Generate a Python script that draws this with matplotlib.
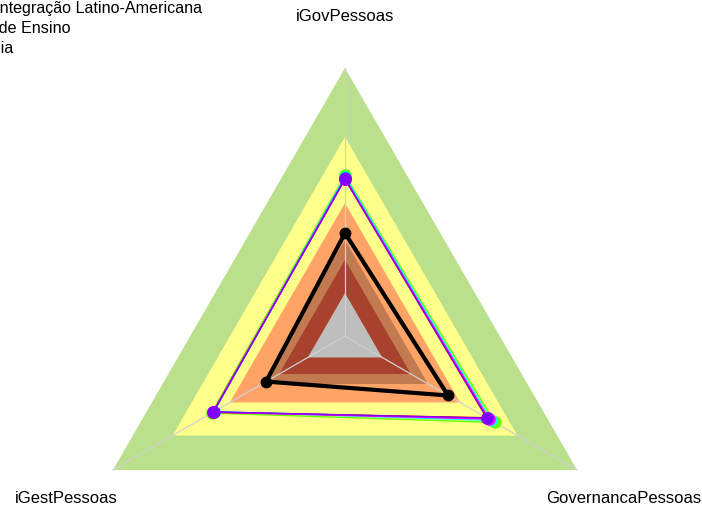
import numpy as np
import matplotlib

matplotlib.use("Agg")
import matplotlib.pyplot as plt

plt.rcParams["font.family"] = ["Liberation Sans", "DejaVu Sans"]

# axes, counter-clockwise from the top
axis_labels = ["iGovPessoas", "iGestPessoas", "GovernancaPessoas"]

# background bands (outer radius, fraction of max) and their colours
band_levels = [1.0, 0.743, 0.496, 0.358, 0.284, 0.16]
band_colors = ["#bbe08c", "#ffff8c", "#ffa466", "#c27a50", "#a8412d", "#bebebe"]

# series values (fraction of max), order = axis_labels
series_names = ["verde", "ciano", "azul", "vermelho", "magenta", "violeta"]
series_colors = ["#66ff00", "#00ffff", "#0040ff", "#ff0000", "#ff00ff", "#8000ff"]
series_values = [
    [0.600, 0.575, 0.645],
    [0.595, 0.565, 0.630],
    [0.588, 0.566, 0.615],
    [0.585, 0.570, 0.610],
    [0.587, 0.568, 0.620],
    [0.586, 0.567, 0.612],
]
unila_values = [0.384, 0.340, 0.444]

legend_texts = [
    "Universidade Federal da Integração Latino-Americana",
    "Instituições Federais de Ensino",
    "Autarquia",
]

W, H, DPI = 702, 511, 100
CX, CY, R = 345, 336, 268  # centre and radius in pixels

theta = np.deg2rad([90, 210, 330])
cos_t, sin_t = np.cos(theta), np.sin(theta)


def closed(vals):
    v = np.asarray(vals, dtype=float)
    x = np.append(v * cos_t, v[0] * cos_t[0])
    y = np.append(v * sin_t, v[0] * sin_t[0])
    return x, y


fig = plt.figure(figsize=(W / DPI, H / DPI), dpi=DPI)
ax = fig.add_axes([0, 0, 1, 1])
ax.set_xlim(-CX / R, (W - CX) / R)
ax.set_ylim(-(H - CY) / R, CY / R)
ax.axis("off")

for lvl, col in zip(band_levels, band_colors):
    x, y = closed([lvl] * 3)
    ax.fill(x, y, color=col, lw=0, zorder=1)

# spokes
for c, s in zip(cos_t, sin_t):
    ax.plot([0, c], [0, s], color="#d0d0d0", lw=0.9, zorder=2)

for vals, col in zip(series_values, series_colors):
    x, y = closed(vals)
    ax.plot(x, y, color=col, lw=1.0, zorder=3)
    ax.plot(x[:-1], y[:-1], "o", color=col, ms=8, zorder=3)

x, y = closed(unila_values)
ax.plot(x, y, color="black", lw=3, zorder=4)
ax.plot(x[:-1], y[:-1], "o", color="black", ms=7.5, zorder=4)

for lab, c, s in zip(axis_labels, cos_t, sin_t):
    ax.text(1.2 * c, 1.2 * s - 2 / R, lab, ha="center", va="center", fontsize=12)

# legend sits partly outside the canvas, so only the ends show
legend_ends = [202, 70, 14]
legend_rows = [8, 28, 48]
for txt, xe, yr in zip(legend_texts, legend_ends, legend_rows):
    fig.text(xe / W, 1 - yr / H, txt, ha="right", va="center", fontsize=11.6)

fig.savefig("out.png", dpi=DPI)
